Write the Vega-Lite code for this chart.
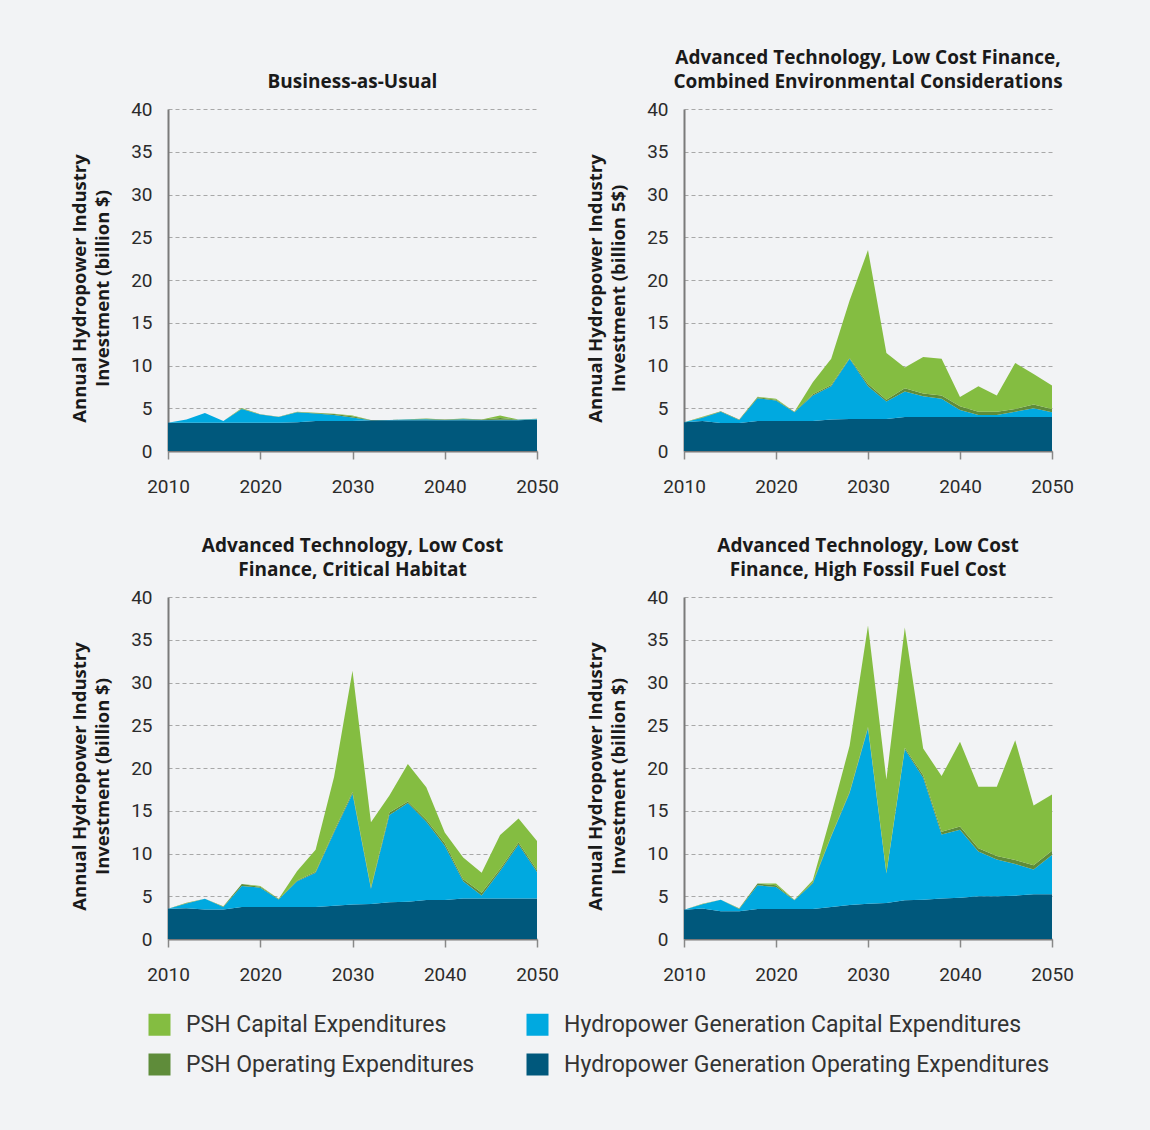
{
  "$schema": "https://vega.github.io/schema/vega-lite/v6.json",
  "autosize": {"type": "none"},
  "padding": {"left": 168, "top": 109, "right": 982, "bottom": 1021},
  "background": "#f2f3f5",
  "config": {
    "font": "Roboto",
    "view": {"stroke": null},
    "axis": {"labelFont": "Roboto", "labelFontSize": 19, "labelColor": "#2b2b2b", "titleFont": "Open Sans", "titleFontSize": 18.5, "titleFontWeight": "bold", "titleColor": "#1a1a1a", "domainColor": "#7a7a7a", "domainWidth": 2},
    "title": {"font": "Open Sans", "fontSize": 19, "fontWeight": "bold", "color": "#1a1a1a", "anchor": "middle", "frame": "group", "lineHeight": 24, "baseline": "bottom", "offset": 8},
    "legend": {"labelFont": "Roboto", "labelFontSize": 23, "labelColor": "#333333", "symbolType": "square", "symbolSize": 484, "symbolStrokeWidth": 0, "symbolOpacity": 1, "padding": 0, "labelOffset": 15, "columns": 2, "columnPadding": 51, "rowPadding": 16, "labelLimit": 700}
  },
  "datasets": {
    "w": [
      {"s":1,"yr":2010,"HO":3.3,"HC":0.0,"PO":0.0,"PC":0.0},
      {"s":1,"yr":2012,"HO":3.3,"HC":0.37,"PO":0.0,"PC":0.0},
      {"s":1,"yr":2014,"HO":3.3,"HC":1.15,"PO":0.0,"PC":0.0},
      {"s":1,"yr":2016,"HO":3.3,"HC":0.21,"PO":0.0,"PC":0.0},
      {"s":1,"yr":2018,"HO":3.3,"HC":1.62,"PO":0.05,"PC":0.05},
      {"s":1,"yr":2020,"HO":3.3,"HC":0.96,"PO":0.03,"PC":0.02},
      {"s":1,"yr":2022,"HO":3.3,"HC":0.68,"PO":0.02,"PC":0.0},
      {"s":1,"yr":2024,"HO":3.35,"HC":1.18,"PO":0.03,"PC":0.02},
      {"s":1,"yr":2026,"HO":3.5,"HC":0.88,"PO":0.05,"PC":0.03},
      {"s":1,"yr":2028,"HO":3.5,"HC":0.72,"PO":0.1,"PC":0.05},
      {"s":1,"yr":2030,"HO":3.5,"HC":0.41,"PO":0.15,"PC":0.08},
      {"s":1,"yr":2032,"HO":3.6,"HC":0.0,"PO":0.03,"PC":0.0},
      {"s":1,"yr":2034,"HO":3.6,"HC":0.02,"PO":0.02,"PC":0.0},
      {"s":1,"yr":2036,"HO":3.6,"HC":0.07,"PO":0.03,"PC":0.0},
      {"s":1,"yr":2038,"HO":3.6,"HC":0.12,"PO":0.05,"PC":0.02},
      {"s":1,"yr":2040,"HO":3.6,"HC":0.04,"PO":0.03,"PC":0.0},
      {"s":1,"yr":2042,"HO":3.6,"HC":0.12,"PO":0.05,"PC":0.02},
      {"s":1,"yr":2044,"HO":3.6,"HC":0.04,"PO":0.03,"PC":0.0},
      {"s":1,"yr":2046,"HO":3.6,"HC":0.05,"PO":0.2,"PC":0.3},
      {"s":1,"yr":2048,"HO":3.6,"HC":0.05,"PO":0.03,"PC":0.0},
      {"s":1,"yr":2050,"HO":3.67,"HC":0.08,"PO":0.03,"PC":0.0},

      {"s":2,"yr":2010,"HO":3.36,"HC":0.0,"PO":0.0,"PC":0.0},
      {"s":2,"yr":2012,"HO":3.5,"HC":0.4,"PO":0.05,"PC":0.05},
      {"s":2,"yr":2014,"HO":3.28,"HC":1.32,"PO":0.05,"PC":0.0},
      {"s":2,"yr":2016,"HO":3.28,"HC":0.35,"PO":0.05,"PC":0.0},
      {"s":2,"yr":2018,"HO":3.5,"HC":2.67,"PO":0.12,"PC":0.05},
      {"s":2,"yr":2020,"HO":3.5,"HC":2.4,"PO":0.1,"PC":0.1},
      {"s":2,"yr":2022,"HO":3.5,"HC":1.03,"PO":0.05,"PC":0.0},
      {"s":2,"yr":2024,"HO":3.5,"HC":2.98,"PO":0.15,"PC":1.42},
      {"s":2,"yr":2026,"HO":3.67,"HC":3.91,"PO":0.15,"PC":3.05},
      {"s":2,"yr":2028,"HO":3.75,"HC":7.03,"PO":0.1,"PC":6.72},
      {"s":2,"yr":2030,"HO":3.75,"HC":3.83,"PO":0.27,"PC":15.65},
      {"s":2,"yr":2032,"HO":3.75,"HC":2.03,"PO":0.2,"PC":5.47},
      {"s":2,"yr":2034,"HO":3.98,"HC":2.97,"PO":0.39,"PC":2.43},
      {"s":2,"yr":2036,"HO":3.98,"HC":2.42,"PO":0.32,"PC":4.26},
      {"s":2,"yr":2038,"HO":3.98,"HC":2.12,"PO":0.38,"PC":4.3},
      {"s":2,"yr":2040,"HO":3.98,"HC":0.82,"PO":0.43,"PC":1.1},
      {"s":2,"yr":2042,"HO":3.98,"HC":0.22,"PO":0.4,"PC":2.98},
      {"s":2,"yr":2044,"HO":3.98,"HC":0.22,"PO":0.4,"PC":1.88},
      {"s":2,"yr":2046,"HO":3.98,"HC":0.62,"PO":0.32,"PC":5.38},
      {"s":2,"yr":2048,"HO":3.98,"HC":1.02,"PO":0.43,"PC":3.59},
      {"s":2,"yr":2050,"HO":3.98,"HC":0.55,"PO":0.39,"PC":2.74},

      {"s":3,"yr":2010,"HO":3.53,"HC":0.0,"PO":0.0,"PC":0.0},
      {"s":3,"yr":2012,"HO":3.6,"HC":0.56,"PO":0.05,"PC":0.03},
      {"s":3,"yr":2014,"HO":3.45,"HC":1.25,"PO":0.0,"PC":0.0},
      {"s":3,"yr":2016,"HO":3.45,"HC":0.28,"PO":0.06,"PC":0.05},
      {"s":3,"yr":2018,"HO":3.73,"HC":2.47,"PO":0.23,"PC":0.0},
      {"s":3,"yr":2020,"HO":3.73,"HC":2.27,"PO":0.1,"PC":0.1},
      {"s":3,"yr":2022,"HO":3.73,"HC":0.9,"PO":0.05,"PC":0.02},
      {"s":3,"yr":2024,"HO":3.73,"HC":3.02,"PO":0.1,"PC":1.11},
      {"s":3,"yr":2026,"HO":3.73,"HC":4.03,"PO":0.1,"PC":2.57},
      {"s":3,"yr":2028,"HO":3.88,"HC":8.59,"PO":0.15,"PC":6.32},
      {"s":3,"yr":2030,"HO":4.04,"HC":12.94,"PO":0.2,"PC":14.19},
      {"s":3,"yr":2032,"HO":4.08,"HC":1.8,"PO":0.15,"PC":7.62},
      {"s":3,"yr":2034,"HO":4.31,"HC":10.19,"PO":0.3,"PC":1.98},
      {"s":3,"yr":2036,"HO":4.35,"HC":11.55,"PO":0.18,"PC":4.39},
      {"s":3,"yr":2038,"HO":4.55,"HC":9.15,"PO":0.26,"PC":3.8},
      {"s":3,"yr":2040,"HO":4.55,"HC":6.35,"PO":0.3,"PC":1.27},
      {"s":3,"yr":2042,"HO":4.75,"HC":2.0,"PO":0.23,"PC":2.55},
      {"s":3,"yr":2044,"HO":4.75,"HC":0.35,"PO":0.3,"PC":2.36},
      {"s":3,"yr":2046,"HO":4.75,"HC":3.21,"PO":0.24,"PC":3.96},
      {"s":3,"yr":2048,"HO":4.75,"HC":6.31,"PO":0.24,"PC":2.8},
      {"s":3,"yr":2050,"HO":4.75,"HC":3.09,"PO":0.24,"PC":3.37},

      {"s":4,"yr":2010,"HO":3.42,"HC":0.0,"PO":0.0,"PC":0.0},
      {"s":4,"yr":2012,"HO":3.58,"HC":0.47,"PO":0.04,"PC":0.04},
      {"s":4,"yr":2014,"HO":3.26,"HC":1.34,"PO":0.0,"PC":0.0},
      {"s":4,"yr":2016,"HO":3.26,"HC":0.24,"PO":0.06,"PC":0.04},
      {"s":4,"yr":2018,"HO":3.5,"HC":2.79,"PO":0.19,"PC":0.0},
      {"s":4,"yr":2020,"HO":3.5,"HC":2.59,"PO":0.2,"PC":0.19},
      {"s":4,"yr":2022,"HO":3.5,"HC":1.02,"PO":0.05,"PC":0.03},
      {"s":4,"yr":2024,"HO":3.5,"HC":2.98,"PO":0.15,"PC":0.25},
      {"s":4,"yr":2026,"HO":3.73,"HC":8.25,"PO":0.1,"PC":2.46},
      {"s":4,"yr":2028,"HO":3.97,"HC":13.12,"PO":0.1,"PC":5.4},
      {"s":4,"yr":2030,"HO":4.13,"HC":20.51,"PO":0.16,"PC":11.86},
      {"s":4,"yr":2032,"HO":4.2,"HC":3.46,"PO":0.1,"PC":10.9},
      {"s":4,"yr":2034,"HO":4.52,"HC":17.68,"PO":0.16,"PC":14.06},
      {"s":4,"yr":2036,"HO":4.6,"HC":14.26,"PO":0.28,"PC":3.14},
      {"s":4,"yr":2038,"HO":4.75,"HC":7.47,"PO":0.31,"PC":6.53},
      {"s":4,"yr":2040,"HO":4.83,"HC":7.94,"PO":0.39,"PC":9.9},
      {"s":4,"yr":2042,"HO":4.99,"HC":5.23,"PO":0.39,"PC":7.19},
      {"s":4,"yr":2044,"HO":4.99,"HC":4.32,"PO":0.39,"PC":8.1},
      {"s":4,"yr":2046,"HO":5.07,"HC":3.69,"PO":0.47,"PC":14.03},
      {"s":4,"yr":2048,"HO":5.23,"HC":2.9,"PO":0.51,"PC":6.96},
      {"s":4,"yr":2050,"HO":5.23,"HC":4.59,"PO":0.51,"PC":6.57}
    ],
    "cats": [
      {"c":"HO","k":1,"label":"Hydropower Generation Operating Expenditures"},
      {"c":"HC","k":2,"label":"Hydropower Generation Capital Expenditures"},
      {"c":"PO","k":3,"label":"PSH Operating Expenditures"},
      {"c":"PC","k":4,"label":"PSH Capital Expenditures"}
    ]
  },
  "data": {"name": "w"},
  "columns": 2,
  "spacing": {"row": 146, "column": 147},
  "bounds": "flush",
  "concat": [
    {
      "width": 369, "height": 342,
      "title": {"text": ["Business-as-Usual"]},
      "transform": [
        {"filter": "datum.s == 1"},
        {"fold": ["HO","HC","PO","PC"], "as": ["c","v"]},
        {"lookup": "c", "from": {"data": {"name": "cats"}, "key": "c", "fields": ["label","k"]}}
      ],
      "mark": {"type": "area", "interpolate": "linear"},
      "encoding": {
        "x": {"field": "yr", "type": "quantitative", "scale": {"domain": [2010, 2050], "nice": false, "zero": false}, "axis": {"title": null, "values": [2010,2020,2030,2040,2050], "format": "d", "grid": false, "ticks": true, "tickSize": 8, "tickColor": "#888888", "tickWidth": 1.5, "labelPadding": 18, "labelFlush": false}},
        "y": {"field": "v", "type": "quantitative", "stack": "zero", "scale": {"domain": [0, 40], "nice": false}, "axis": {"title": ["Annual Hydropower Industry", "Investment (billion $)"], "titleLineHeight": 23, "titleX": -79, "titleY": 179, "titleBaseline": "bottom", "values": [0,5,10,15,20,25,30,35,40], "ticks": false, "labelPadding": 16, "grid": true, "gridDash": [4,3], "gridColor": "#a8a8a8", "gridWidth": 1}},
        "color": {"field": "label", "type": "nominal", "scale": {"domain": ["PSH Capital Expenditures","Hydropower Generation Capital Expenditures","PSH Operating Expenditures","Hydropower Generation Operating Expenditures"], "range": ["#84bd41","#00a9e0","#5f8c3a","#00587c"]}, "legend": {"title": null, "orient": "none", "legendX": -20, "legendY": 904, "direction": "horizontal", "columns": 2}},
        "order": {"field": "k", "type": "quantitative"}
      }
    },
    {
      "width": 368, "height": 342,
      "title": {"text": ["Advanced Technology, Low Cost Finance,", "Combined Environmental Considerations"]},
      "transform": [
        {"filter": "datum.s == 2"},
        {"fold": ["HO","HC","PO","PC"], "as": ["c","v"]},
        {"lookup": "c", "from": {"data": {"name": "cats"}, "key": "c", "fields": ["label","k"]}}
      ],
      "mark": {"type": "area", "interpolate": "linear"},
      "encoding": {
        "x": {"field": "yr", "type": "quantitative", "scale": {"domain": [2010, 2050], "nice": false, "zero": false}, "axis": {"title": null, "values": [2010,2020,2030,2040,2050], "format": "d", "grid": false, "ticks": true, "tickSize": 8, "tickColor": "#888888", "tickWidth": 1.5, "labelPadding": 18, "labelFlush": false}},
        "y": {"field": "v", "type": "quantitative", "stack": "zero", "scale": {"domain": [0, 40], "nice": false}, "axis": {"title": ["Annual Hydropower Industry", "Investment (billion 5$)"], "titleLineHeight": 23, "titleX": -79, "titleY": 179, "titleBaseline": "bottom", "values": [0,5,10,15,20,25,30,35,40], "ticks": false, "labelPadding": 16, "grid": true, "gridDash": [4,3], "gridColor": "#a8a8a8", "gridWidth": 1}},
        "color": {"field": "label", "type": "nominal", "scale": {"domain": ["PSH Capital Expenditures","Hydropower Generation Capital Expenditures","PSH Operating Expenditures","Hydropower Generation Operating Expenditures"], "range": ["#84bd41","#00a9e0","#5f8c3a","#00587c"]}, "legend": {"title": null, "orient": "none", "legendX": -20, "legendY": 904, "direction": "horizontal", "columns": 2}},
        "order": {"field": "k", "type": "quantitative"}
      }
    },
    {
      "width": 369, "height": 342,
      "title": {"text": ["Advanced Technology, Low Cost", "Finance, Critical Habitat"]},
      "transform": [
        {"filter": "datum.s == 3"},
        {"fold": ["HO","HC","PO","PC"], "as": ["c","v"]},
        {"lookup": "c", "from": {"data": {"name": "cats"}, "key": "c", "fields": ["label","k"]}}
      ],
      "mark": {"type": "area", "interpolate": "linear"},
      "encoding": {
        "x": {"field": "yr", "type": "quantitative", "scale": {"domain": [2010, 2050], "nice": false, "zero": false}, "axis": {"title": null, "values": [2010,2020,2030,2040,2050], "format": "d", "grid": false, "ticks": true, "tickSize": 8, "tickColor": "#888888", "tickWidth": 1.5, "labelPadding": 18, "labelFlush": false}},
        "y": {"field": "v", "type": "quantitative", "stack": "zero", "scale": {"domain": [0, 40], "nice": false}, "axis": {"title": ["Annual Hydropower Industry", "Investment (billion $)"], "titleLineHeight": 23, "titleX": -79, "titleY": 179, "titleBaseline": "bottom", "values": [0,5,10,15,20,25,30,35,40], "ticks": false, "labelPadding": 16, "grid": true, "gridDash": [4,3], "gridColor": "#a8a8a8", "gridWidth": 1}},
        "color": {"field": "label", "type": "nominal", "scale": {"domain": ["PSH Capital Expenditures","Hydropower Generation Capital Expenditures","PSH Operating Expenditures","Hydropower Generation Operating Expenditures"], "range": ["#84bd41","#00a9e0","#5f8c3a","#00587c"]}, "legend": {"title": null, "orient": "none", "legendX": -20, "legendY": 904, "direction": "horizontal", "columns": 2}},
        "order": {"field": "k", "type": "quantitative"}
      }
    },
    {
      "width": 368, "height": 342,
      "title": {"text": ["Advanced Technology, Low Cost", "Finance, High Fossil Fuel Cost"]},
      "transform": [
        {"filter": "datum.s == 4"},
        {"fold": ["HO","HC","PO","PC"], "as": ["c","v"]},
        {"lookup": "c", "from": {"data": {"name": "cats"}, "key": "c", "fields": ["label","k"]}}
      ],
      "mark": {"type": "area", "interpolate": "linear"},
      "encoding": {
        "x": {"field": "yr", "type": "quantitative", "scale": {"domain": [2010, 2050], "nice": false, "zero": false}, "axis": {"title": null, "values": [2010,2020,2030,2040,2050], "format": "d", "grid": false, "ticks": true, "tickSize": 8, "tickColor": "#888888", "tickWidth": 1.5, "labelPadding": 18, "labelFlush": false}},
        "y": {"field": "v", "type": "quantitative", "stack": "zero", "scale": {"domain": [0, 40], "nice": false}, "axis": {"title": ["Annual Hydropower Industry", "Investment (billion $)"], "titleLineHeight": 23, "titleX": -79, "titleY": 179, "titleBaseline": "bottom", "values": [0,5,10,15,20,25,30,35,40], "ticks": false, "labelPadding": 16, "grid": true, "gridDash": [4,3], "gridColor": "#a8a8a8", "gridWidth": 1}},
        "color": {"field": "label", "type": "nominal", "scale": {"domain": ["PSH Capital Expenditures","Hydropower Generation Capital Expenditures","PSH Operating Expenditures","Hydropower Generation Operating Expenditures"], "range": ["#84bd41","#00a9e0","#5f8c3a","#00587c"]}, "legend": {"title": null, "orient": "none", "legendX": -20, "legendY": 904, "direction": "horizontal", "columns": 2}},
        "order": {"field": "k", "type": "quantitative"}
      }
    }
  ]
}
